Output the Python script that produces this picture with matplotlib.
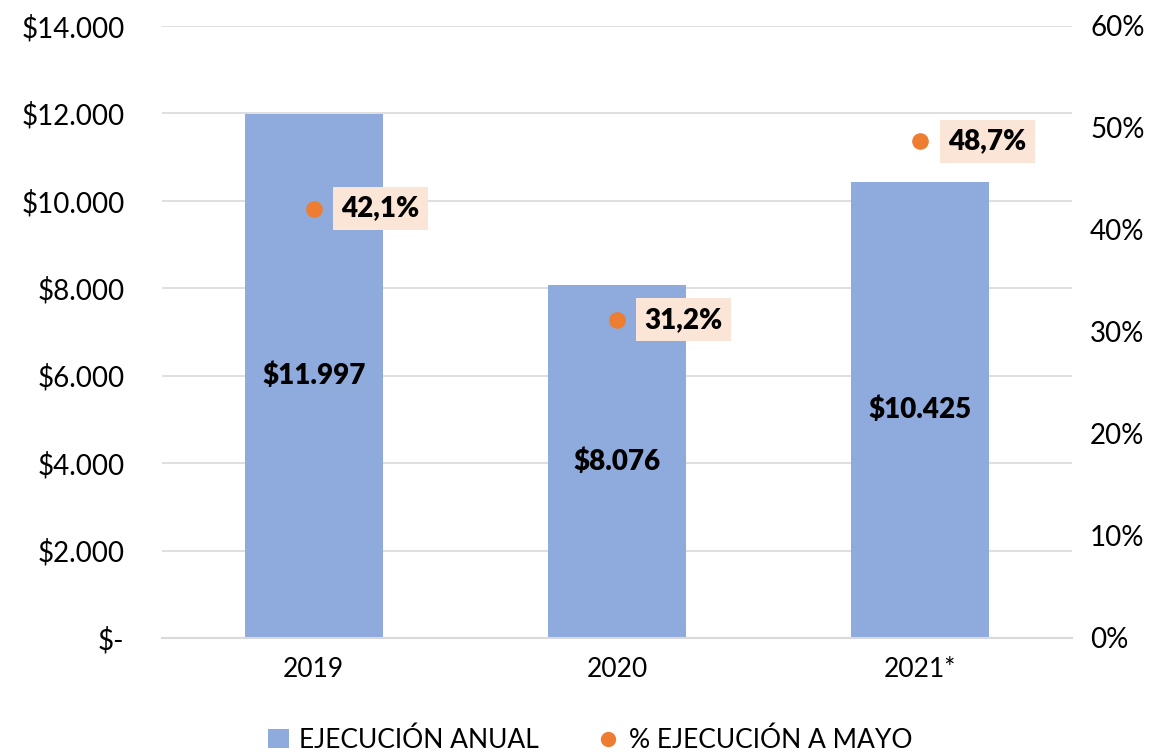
import matplotlib
matplotlib.use("Agg")
import matplotlib.pyplot as plt
from matplotlib.lines import Line2D
from matplotlib.patches import Patch

categories = ["2019", "2020", "2021*"]
ejecucion_anual = [11997, 8076, 10425]
pct_mayo = [42.1, 31.2, 48.7]
left_ticks = [0, 2000, 4000, 6000, 8000, 10000, 12000, 14000]
left_labels = ["$-", "$2.000", "$4.000", "$6.000", "$8.000", "$10.000", "$12.000", "$14.000"]
right_ticks = [0, 10, 20, 30, 40, 50, 60]
right_labels = ["0%", "10%", "20%", "30%", "40%", "50%", "60%"]
bar_labels = ["$11.997", "$8.076", "$10.425"]
pct_labels = ["42,1%", "31,2%", "48,7%"]

plt.rcParams['font.family'] = ['Lato', 'DejaVu Sans']

BAR = "#8FAADC"
ORANGE = "#ED7D31"
BOX = "#FBE5D6"
GRID = "#D9D9D9"

fig = plt.figure(figsize=(11.62, 7.55), dpi=100)
ax = fig.add_axes([162/1162, 1-638/755, (1072-162)/1162, (638-26)/755])
ax2 = ax.twinx()

x = list(range(len(categories)))
ax.bar(x, ejecucion_anual, width=0.455, color=BAR, zorder=2)
ax.set_xlim(-0.5, 2.5)
ax.set_ylim(0, 14000)
ax.set_yticks(left_ticks)
ax.set_yticklabels(left_labels, fontsize=20)
ax.set_xticks(x)
ax.set_xticklabels(categories, fontsize=19)
ax.tick_params(axis='x', length=0, pad=14)
ax.tick_params(axis='y', length=0, pad=27)
ax.grid(axis='y', color=GRID, linewidth=1.2, zorder=0)
ax.set_axisbelow(True)
for s in ax.spines.values():
    s.set_visible(False)
ax.spines['bottom'].set_visible(True)
ax.spines['bottom'].set_color(GRID)
ax.spines['bottom'].set_linewidth(1.5)

for xi, v, lab in zip(x, ejecucion_anual, bar_labels):
    ax.text(xi, v/2, lab, ha='center', va='center', fontsize=20,
            fontweight='heavy', color='black', zorder=3)

ax2.scatter(x, pct_mayo, s=120, color=ORANGE, zorder=4)
ax2.set_ylim(0, 60)
ax2.set_yticks(right_ticks)
ax2.set_yticklabels(right_labels, fontsize=20)
ax2.tick_params(axis='y', length=0, pad=13)
for s in ax2.spines.values():
    s.set_visible(False)

for xi, v, lab in zip(x, pct_mayo, pct_labels):
    ax2.annotate(lab, (xi, v), xytext=(20, 0), textcoords='offset points',
                 ha='left', va='center', fontsize=20, fontweight='heavy',
                 color='black', zorder=5,
                 bbox=dict(boxstyle='square,pad=0.3', fc=BOX, ec='none'))

handles = [Patch(facecolor=BAR, edgecolor='none', label="EJECUCIÓN ANUAL"),
           Line2D([0], [0], marker='o', linestyle='none', markersize=10,
                  markerfacecolor=ORANGE, markeredgecolor=ORANGE,
                  label="% EJECUCIÓN A MAYO")]
fig.legend(handles=handles, loc='center', bbox_to_anchor=(590/1162, 1-740/755),
           ncol=2, frameon=False, fontsize=19, handlelength=0.8,
           handletextpad=0.4, columnspacing=2.2)

fig.savefig("out.png", dpi=100)
